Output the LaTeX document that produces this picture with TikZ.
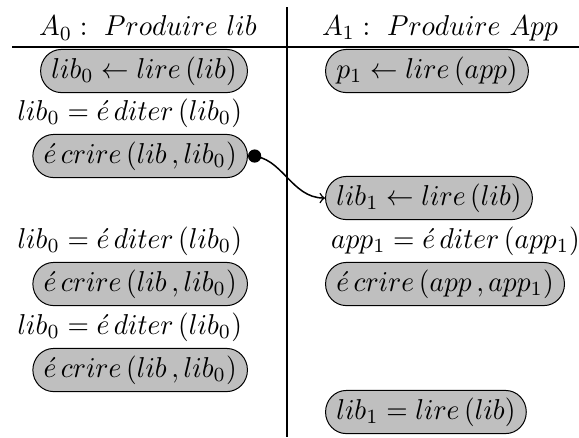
\documentclass[tikz,border=0pt]{standalone}
\usepackage{xcolor}
\usepackage{tikz}
\usetikzlibrary {positioning}
\usetikzlibrary{arrows}
\usetikzlibrary{shapes.misc}
\tikzset{edge/.style = {*->,> = to}}

\begin{document}
\begin{tikzpicture}[xscale=1.1,yscale=1.15,x=0.363636pt,y=-0.347826pt,every node/.style={transform shape},op node/.style={rounded rectangle,draw,fill=black!25,inner xsep=2pt,inner ysep=2.5pt},txt node/.style={inner sep=2pt}]
            \useasboundingbox (0,0) rectangle (579,437);
            \draw[line width=1pt] (287,7) -- (287,437);
            \draw[line width=1pt] (12,47) -- (579,47);
            \node (h0) at (148,28) {$A_0:\ Produire\ lib$};
            \node (h1) at (440,28) {$A_1:\ Produire\ App$};
            % colonne de gauche
            \node[op node,anchor=east] (l1) at (248,71) {$lib_0 \leftarrow lire\,(lib)$};
            \node[txt node,anchor=east] (l2) at (248,113) {$lib_0 = \acute{e}\,diter\,(lib_0)$};
            \node[op node,anchor=east] (l3) at (248,156) {$\acute{e}\,crire\,(lib\,,lib_0)$};
            \node[txt node,anchor=east] (l4) at (248,241) {$lib_0 = \acute{e}\,diter\,(lib_0)$};
            \node[op node,anchor=east] (l5) at (248,284) {$\acute{e}\,crire\,(lib\,,lib_0)$};
            \node[txt node,anchor=east] (l6) at (248,327) {$lib_0 = \acute{e}\,diter\,(lib_0)$};
            \node[op node,anchor=east] (l7) at (248,370) {$\acute{e}\,crire\,(lib\,,lib_0)$};
            % colonne de droite
            \node[op node,anchor=west] (r1) at (325,71) {$p_1 \leftarrow lire\,(app)$};
            \node[op node,anchor=west] (r2) at (325,198) {$lib_1 \leftarrow lire\,(lib)$};
            \node[txt node,anchor=west] (r3) at (325,241) {$app_1 = \acute{e}\,diter\,(app_1)$};
            \node[op node,anchor=west] (r4) at (325,284) {$\acute{e}\,crire\,(app\,,app_1)$};
            \node[op node,anchor=west] (r5) at (325,412) {$lib_1 = lire\,(lib)$};
            \draw[edge,semithick] (l3.east) to[out=0,in=180] (r2.west);
        \end{tikzpicture}
\end{document}
